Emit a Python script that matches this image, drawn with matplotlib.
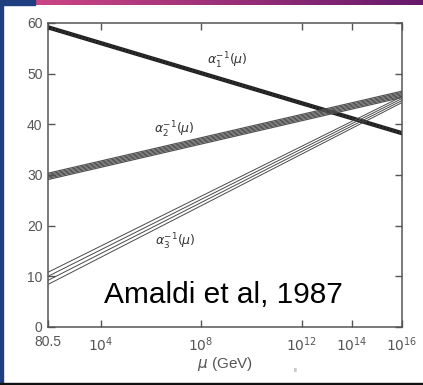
import numpy as np
import matplotlib.pyplot as plt
from matplotlib.patches import Rectangle

# scale range (GeV)
MU_MIN = 80.5
MU_MAX = 1e16

# inverse couplings, one entry per drawn line of each band: value at MU_MIN, value at MU_MAX
alpha1_left = [58.85, 59.05, 59.25, 59.45]
alpha1_right = [37.95, 38.15, 38.35, 38.55]
alpha2_left = [29.1, 29.35, 29.6, 29.85, 30.1, 30.35]
alpha2_right = [45.3, 45.55, 45.8, 46.05, 46.3, 46.55]
alpha3_left = [8.4, 9.2, 10.0, 10.8]
alpha3_right = [44.3, 44.7, 45.1, 45.5]

xtick_vals = [80.5, 1e4, 1e8, 1e12, 1e14, 1e16]
xtick_labels = ["80.5", r"$10^4$", r"$10^8$", r"$10^{12}$", r"$10^{14}$", r"$10^{16}$"]
ytick_vals = [0, 10, 20, 30, 40, 50, 60]

plt.rcParams['font.family'] = ['Liberation Sans', 'DejaVu Sans']
plt.rcParams['mathtext.fontset'] = 'dejavusans'

fig = plt.figure(figsize=(4.23, 3.85), dpi=100)

# slide frame: top gradient strip, left blue edge, bottom line
frame = fig.add_axes([0, 0, 1, 1])
frame.axis("off")
grad = np.linspace(0, 1, 256)
c0 = np.array([0.80, 0.27, 0.52])
c1 = np.array([0.40, 0.10, 0.42])
strip = (c0[None, :] * (1 - grad[:, None]) + c1[None, :] * grad[:, None])[None, :, :]
frame.imshow(strip, extent=[35, 423, 5, 0], aspect="auto")
frame.add_patch(Rectangle((0, 0), 35, 5, color="#1f3f80"))
frame.add_patch(Rectangle((0, 0), 2.5, 385, color="#1f3f80"))
frame.add_patch(Rectangle((0, 382.5), 423, 2.5, color="#111111"))
frame.set_xlim(0, 423)
frame.set_ylim(385, 0)

ax = fig.add_axes([48/423, 1 - 327/385, (402 - 48)/423, (327 - 23)/385])
ax.set_xscale("log")
ax.set_xlim(MU_MIN, MU_MAX)
ax.set_ylim(0, 60)

ends = [MU_MIN, MU_MAX]
for a, b in zip(alpha1_left, alpha1_right):
	ax.plot(ends, [a, b], color="#202020", lw=1.0, solid_capstyle="butt")
for a, b in zip(alpha2_left, alpha2_right):
	ax.plot(ends, [a, b], color="#505050", lw=0.85, solid_capstyle="butt")
for a, b in zip(alpha3_left, alpha3_right):
	ax.plot(ends, [a, b], color="#4a4a4a", lw=0.7, solid_capstyle="butt")

ax.text(1.1e9, 52.6, r"$\alpha_1^{-1}(\mu)$", fontsize=9, color="#333333", ha="center", va="center")
ax.text(8.7e6, 38.9, r"$\alpha_2^{-1}(\mu)$", fontsize=9, color="#333333", ha="center", va="center")
ax.text(9.8e6, 16.8, r"$\alpha_3^{-1}(\mu)$", fontsize=9, color="#333333", ha="center", va="center")

ax.text(0.495, 0.078, "Amaldi et al, 1987", transform=ax.transAxes, fontsize=21.5,
	color="black", ha="center", va="baseline")

ax.set_xticks(xtick_vals)
ax.set_xticklabels(xtick_labels)
ax.minorticks_off()
ax.set_yticks(ytick_vals)
for side in ["left", "right", "top", "bottom"]:
	ax.spines[side].set_color("#555555")
	ax.spines[side].set_linewidth(1.1)
ax.tick_params(direction="in", length=5, width=1.0, color="#555555",
	top=True, right=True, labelsize=10, labelcolor="#555555")
ax.tick_params(axis="x", pad=6)
ax.tick_params(axis="y", pad=4)

ax.set_xlabel(r"$\mu$ (GeV)", fontsize=11, color="#555555", labelpad=1)
fig.text(295/423, 1 - 370/385, "ıı", fontsize=5, color="#777777", ha="center", va="center")

fig.savefig("out.png", dpi=100)
